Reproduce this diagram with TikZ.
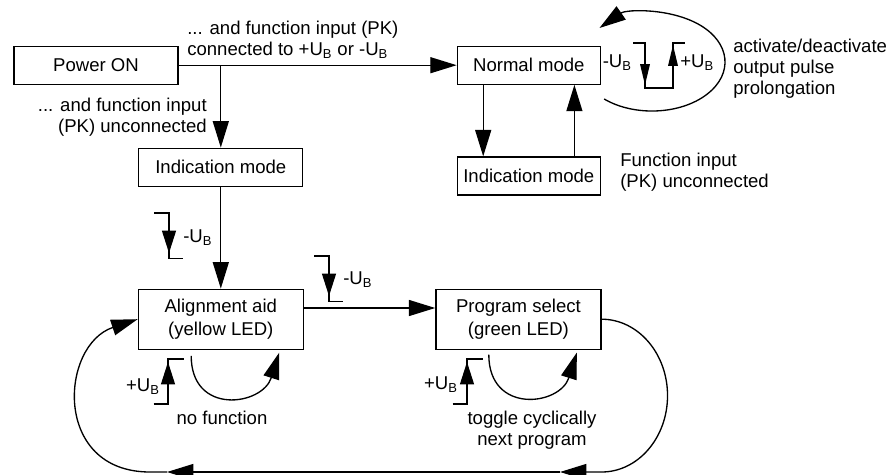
\documentclass[tikz,border=0pt]{standalone}
\usepackage{fontspec}
\setmainfont{Liberation Sans}
\usetikzlibrary{calc,positioning,arrows.meta}

\tikzset{
  box/.style={draw, line width=0.9pt, inner sep=0pt, align=center, minimum height=0.95cm},
  flow/.style={line width=0.95pt, -{Triangle[length=6.6mm,width=4mm]}},
  sig/.style={line width=0.95pt, -{Triangle[length=5.6mm,width=3.5mm]}},
  pulsetip/.style={line width=0.95pt, -{Triangle[length=5.2mm,width=2.4mm]}},
  txt/.style={inner sep=0pt},
  stepdn/.pic={
    \draw[line width=0.95pt] (-0.375,0) -- (0,0) -- (0,-1.13) -- (0.35,-1.13);
    \draw[sig] (0,0) -- (0,-1.0);
  },
  stepup/.pic={
    \draw[line width=0.95pt] (-0.36,0) -- (0,0) -- (0,1.125) -- (0.39,1.125);
    \draw[sig] (0,0) -- (0,1.05);
  }
}

\begin{document}
\begin{tikzpicture}[font=\fontsize{13.2}{15}\selectfont]
\useasboundingbox (0,0) rectangle (22.2,11.85);

\node[box, minimum width=4.1cm] (power) at (2.4,10.22) {Power ON};
\node[box, minimum width=3.575cm] (normal) at (13.22,10.22) {Normal mode};
\node[box, minimum width=3.575cm] (indR) at (13.22,7.45) {Indication mode};
\node[box, minimum width=4.1cm] (indL) at (5.52,7.67) {Indication mode};
\node[box, minimum width=4.125cm, minimum height=1.5cm, font=\fontsize{13.2}{16.4}\selectfont] (align) at (5.52,3.87) {Alignment aid\\(yellow LED)};
\node[box, minimum width=4.125cm, minimum height=1.5cm, font=\fontsize{13.2}{16.4}\selectfont] (prog) at (12.96,3.87) {Program select\\(green LED)};

\coordinate (split) at (indL.north |- power.east);
\draw[flow] (power.east) -- (normal.west);
\draw[flow] (split) -- (indL.north);
\draw[flow] (indL.south) -- (align.north);
\draw[flow] ([yshift=0.28cm]align.east) -- ([yshift=0.28cm]prog.west);
\draw[flow] ([xshift=-1.14cm]normal.south) -- ([xshift=-1.14cm]indR.north);
\draw[flow] ([xshift=1.14cm]indR.north) -- ([xshift=1.14cm]normal.south);

% loop back from program select
\coordinate (loopR) at (14.0,0.05);
\coordinate (loopL) at (4.175,0.05);
\draw[flow] (prog.east) arc[start angle=90, end angle=-90, x radius=1.65cm, y radius=1.91cm] -- (loopR);
\draw[flow] (loopR) -- (loopL);
\draw[flow] (loopL) -- (3.75,0.05) .. controls (1.3,0.05) and (1.5,3.225) .. (align.west);

\draw[flow] ($(align.south)+(-0.74,-0.15)$) .. controls +(0,-1.5) and +(-0.42,-1.33) .. ($(align.south)+(1.46,-0.07)$);
\draw[flow] ($(prog.south)+(-0.74,-0.12)$) .. controls +(0,-1.5) and +(-0.42,-1.33) .. ($(prog.south)+(1.46,-0.07)$);

% pulse at normal mode
\draw[line width=0.95pt] (15.825,10.775) -- (16.125,10.775) -- (16.125,9.65) -- (16.825,9.65) -- (16.825,10.775) -- (17.125,10.775);
\draw[pulsetip] (16.125,10.775) -- (16.125,9.725);
\draw[pulsetip] (16.825,9.65) -- (16.825,10.725);
\draw[flow] (15.103,9.375) arc[start angle=-131, end angle=136, x radius=1.825cm, y radius=1.225cm];

\pic at (4.225,6.525) {stepdn};
\pic at (8.225,5.45) {stepdn};
\pic at (4.2,1.75) {stepup};
\pic at (11.675,1.75) {stepup};

\node[txt, align=left, right=1mm of {(4.575,10.85)}] (lblOn) {... and function input (PK)\\connected to +U\textsubscript{B} or -U\textsubscript{B}};
\node[txt, align=right, left=1mm of {(5.275,8.91)}] (lblOff) {... and function input\\(PK) unconnected};
\node[txt, align=left, right=1mm of {(18.225,10.125)}] (lblPulse) {activate/deactivate\\output pulse\\prolongation};
\node[txt, align=left, right=1mm of {(15.4,7.55)}] (lblFunc) {Function input\\(PK) unconnected};
\node[txt] (lblNo) at (5.55,1.4) {no function};
\node[txt, align=center] (lblToggle) at (13.3,1.1) {toggle cyclically\\next program};

\node[txt, right=1mm of {(4.475,5.9)}] (ubA) {-U\textsubscript{B}};
\node[txt, right=1mm of {(8.475,4.85)}] (ubB) {-U\textsubscript{B}};
\node[txt, left=1mm of {(4.1,2.175)}] (ubC) {+U\textsubscript{B}};
\node[txt, left=1mm of {(11.55,2.225)}] (ubD) {+U\textsubscript{B}};
\node[txt, left=1mm of {(15.9,10.275)}] (ubE) {-U\textsubscript{B}};
\node[txt, right=1mm of {(16.9,10.275)}] (ubF) {+U\textsubscript{B}};

\end{tikzpicture}
\end{document}
